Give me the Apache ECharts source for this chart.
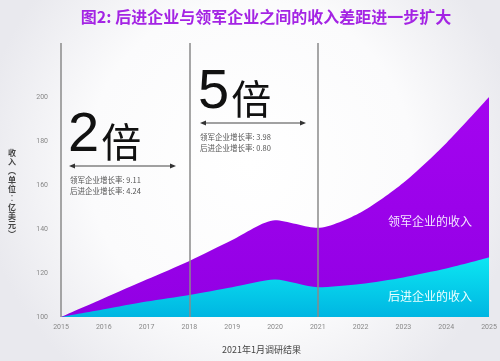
<!DOCTYPE html>
<html><head><meta charset="utf-8">
<script src="https://cdn.jsdelivr.net/npm/echarts@6/dist/echarts.min.js"></script>
<style>html,body{margin:0;padding:0;}#c{width:500px;height:361px;}</style>
</head><body><div id="c"></div>
<script>
var years = ['2015','2016','2017','2018','2019','2020','2021','2022','2023','2024','2025'];
var leaderRevenue = [100, 108.5, 117, 125.5, 135, 144, 140.5, 147.5, 161, 179, 200];
var laggardRevenue = [100, 103.5, 107, 110, 113.5, 117, 113.5, 115, 118, 122, 127];
var yTicks = [100, 120, 140, 160, 180, 200];
var periodLines = ['2015', '2018', '2021'];

var chart = echarts.init(document.getElementById('c'));
var gray = '#888';
var fontCJK = '"Noto Sans CJK SC", "Noto Sans", sans-serif';
function arrow(x1, x2, y) {
  return {
    type: 'group', children: [
      {type: 'line', shape: {x1: x1 + 3, y1: y, x2: x2 - 3, y2: y}, style: {stroke: '#444', lineWidth: 1}},
      {type: 'polygon', shape: {points: [[x1, y], [x1 + 6, y - 2.5], [x1 + 6, y + 2.5]]}, style: {fill: '#333'}},
      {type: 'polygon', shape: {points: [[x2, y], [x2 - 6, y - 2.5], [x2 - 6, y + 2.5]]}, style: {fill: '#333'}}
    ]
  };
}
chart.setOption({
  backgroundColor: new echarts.graphic.RadialGradient(0.5, 0.45, 0.75, [
    {offset: 0, color: '#ffffff'}, {offset: 0.6, color: '#fbfbfc'}, {offset: 1, color: '#e9e9ee'}
  ]),
  animation: false,
  title: {
    text: '图2: 后进企业与领军企业之间的收入差距进一步扩大',
    left: 261, textAlign: 'center', top: 4,
    textStyle: {fontFamily: fontCJK, fontSize: 16, fontWeight: 'bold', color: '#a424e4'}
  },
  grid: {left: 61, right: 11, top: 43, bottom: 44},
  xAxis: {
    type: 'category', data: years, boundaryGap: false,
    axisLine: {show: false}, axisTick: {show: false},
    axisLabel: {color: gray, fontSize: 7, margin: 7, fontFamily: 'Roboto, sans-serif'}
  },
  yAxis: {
    type: 'value', min: 100, max: 224.5, interval: 20,
    splitLine: {show: false}, axisLine: {show: false}, axisTick: {show: false},
    axisLabel: {
      color: gray, fontSize: 7, margin: 13, fontFamily: 'Roboto, sans-serif', showMaxLabel: false,
      formatter: function (v) { return yTicks.indexOf(v) >= 0 ? String(v) : ''; }
    }
  },
  series: [
    {
      type: 'line', name: '领军企业的收入', data: leaderRevenue, smooth: 0.25,
      symbol: 'none', lineStyle: {width: 0}, z: 2,
      areaStyle: {
        opacity: 1,
        color: new echarts.graphic.LinearGradient(0, 0, 0, 1, [
          {offset: 0, color: '#a404f0'}, {offset: 1, color: '#9200e4'}
        ])
      },
      markLine: {
        silent: true, symbol: 'none', label: {show: false}, z: 5,
        lineStyle: {color: '#8a8a8a', width: 1.5, type: 'solid'},
        data: periodLines.map(function (y) { return {xAxis: y}; })
      }
    },
    {
      type: 'line', name: '后进企业的收入', data: laggardRevenue, smooth: 0.25,
      symbol: 'none', lineStyle: {width: 0}, z: 3,
      areaStyle: {
        opacity: 1,
        color: new echarts.graphic.LinearGradient(0, 0, 0, 1, [
          {offset: 0, color: '#0ce6f2'}, {offset: 1, color: '#00b6e2'}
        ])
      }
    }
  ],
  graphic: [
    {type: 'text', left: 68, top: 108, style: {
      text: '{n|2}{c|倍}', rich: {
        n: {fontSize: 56, fontFamily: 'Liberation Sans, Arial, sans-serif', fill: '#111', verticalAlign: 'bottom'},
        c: {fontSize: 40, fontFamily: fontCJK, fill: '#111', verticalAlign: 'bottom', padding: [0, 0, 2, 2]}
      }}},
    arrow(69, 176, 166),
    {type: 'text', left: 70, top: 175, style: {text: '领军企业增长率: 9.11\n后进企业增长率: 4.24', fontSize: 7.5, lineHeight: 11, fontFamily: fontCJK, fill: '#555'}},
    {type: 'text', left: 198, top: 65, style: {
      text: '{n|5}{c|倍}', rich: {
        n: {fontSize: 56, fontFamily: 'Liberation Sans, Arial, sans-serif', fill: '#111', verticalAlign: 'bottom'},
        c: {fontSize: 40, fontFamily: fontCJK, fill: '#111', verticalAlign: 'bottom', padding: [0, 0, 2, 2]}
      }}},
    arrow(200, 306, 123),
    {type: 'text', left: 200, top: 132, style: {text: '领军企业增长率: 3.98\n后进企业增长率: 0.80', fontSize: 7.5, lineHeight: 11, fontFamily: fontCJK, fill: '#555'}},
    {type: 'text', left: 388, top: 215, z: 10, style: {text: '领军企业的收入', fontSize: 12, fontFamily: fontCJK, fill: '#f4e6ff'}},
    {type: 'text', left: 388, top: 290, z: 10, style: {text: '后进企业的收入', fontSize: 12, fontFamily: fontCJK, fill: '#eaffff'}},
    {type: 'text', left: 8, top: 148, style: {text: '收\n入\n︵\n单\n位\n︰\n亿\n美\n元\n︶', fontSize: 8, lineHeight: 9, fontFamily: fontCJK, fontWeight: 'bold', fill: '#444'}},
    {type: 'text', left: 222, top: 345, style: {text: '2021年1月调研结果', fontSize: 9, fontFamily: fontCJK, fill: '#444'}}
  ]
});
</script></body></html>
